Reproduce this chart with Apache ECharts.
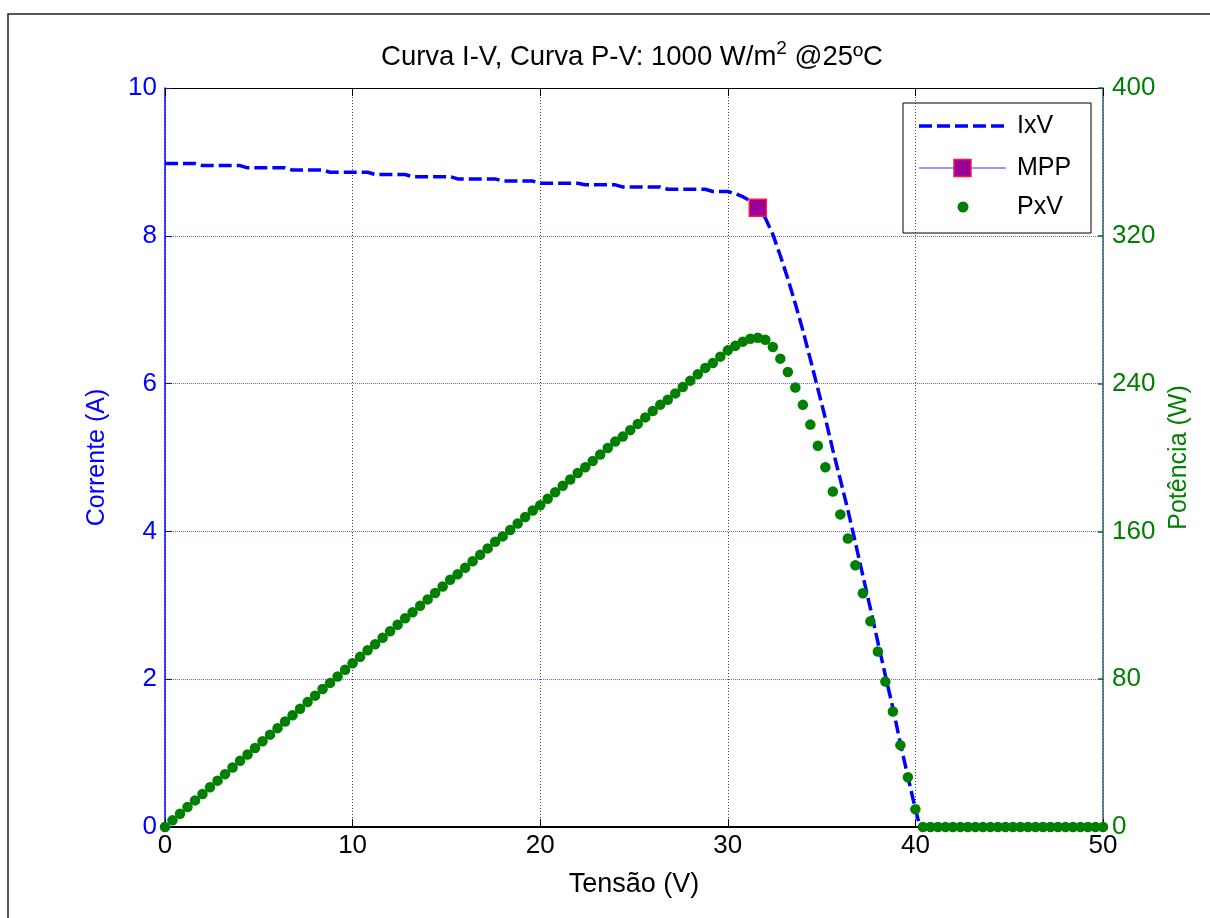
<!DOCTYPE html>
<html>
<head>
<meta charset="utf-8">
<script src="https://cdn.jsdelivr.net/npm/echarts/dist/echarts.min.js"></script>
<style>
html,body{margin:0;padding:0;background:#fff;}
#chart{width:1210px;height:918px;}
</style>
</head>
<body>
<div id="chart"></div>
<script>
// ---- data ----
const xTicks = [0, 10, 20, 30, 40, 50];
const currentTicks = [0, 2, 4, 6, 8, 10];
const powerTicks = [0, 80, 160, 240, 320, 400];

// I-V curve (Tensão V, Corrente A)
const ivVoltage = [0, 1.6, 2.0, 4.0, 4.4, 6.4, 6.8, 8.4, 8.8, 10.8, 11.2, 12.8, 13.2, 15.2, 15.6, 17.6, 18.0, 19.6, 20.0, 22.0, 22.4, 24.0, 24.4, 26.4, 26.8, 28.8, 29.2, 30.0, 30.4, 30.8, 31.2, 31.6, 32.0, 32.4, 32.8, 33.2, 33.6, 34.0, 34.4, 34.8, 35.2, 35.6, 36.0, 36.4, 36.8, 37.2, 37.6, 38.0, 38.4, 38.8, 39.2, 39.6, 40.0, 40.25, 50];
const ivCurrent = [8.98, 8.98, 8.95, 8.95, 8.92, 8.92, 8.89, 8.89, 8.86, 8.86, 8.83, 8.83, 8.80, 8.80, 8.77, 8.77, 8.74, 8.74, 8.71, 8.71, 8.69, 8.69, 8.66, 8.66, 8.63, 8.63, 8.60, 8.60, 8.57, 8.53, 8.47, 8.38, 8.24, 8.02, 7.73, 7.42, 7.08, 6.72, 6.33, 5.93, 5.53, 5.10, 4.70, 4.29, 3.85, 3.40, 2.96, 2.50, 2.05, 1.61, 1.13, 0.68, 0.24, 0, 0];

// Maximum power point
const mppVoltage = 31.6;
const mppCurrent = 8.38;

// P-V points (Tensão V, Potência W)
const pvVoltage = [0, 0.4, 0.8, 1.2, 1.6, 2.0, 2.4, 2.8, 3.2, 3.6, 4.0, 4.4, 4.8, 5.2, 5.6, 6.0, 6.4, 6.8, 7.2, 7.6, 8.0, 8.4, 8.8, 9.2, 9.6, 10.0, 10.4, 10.8, 11.2, 11.6, 12.0, 12.4, 12.8, 13.2, 13.6, 14.0, 14.4, 14.8, 15.2, 15.6, 16.0, 16.4, 16.8, 17.2, 17.6, 18.0, 18.4, 18.8, 19.2, 19.6, 20.0, 20.4, 20.8, 21.2, 21.6, 22.0, 22.4, 22.8, 23.2, 23.6, 24.0, 24.4, 24.8, 25.2, 25.6, 26.0, 26.4, 26.8, 27.2, 27.6, 28.0, 28.4, 28.8, 29.2, 29.6, 30.0, 30.4, 30.8, 31.2, 31.6, 32.0, 32.4, 32.8, 33.2, 33.6, 34.0, 34.4, 34.8, 35.2, 35.6, 36.0, 36.4, 36.8, 37.2, 37.6, 38.0, 38.4, 38.8, 39.2, 39.6, 40.0, 40.4, 40.8, 41.2, 41.6, 42.0, 42.4, 42.8, 43.2, 43.6, 44.0, 44.4, 44.8, 45.2, 45.6, 46.0, 46.4, 46.8, 47.2, 47.6, 48.0, 48.4, 48.8, 49.2, 49.6, 50.0];
const pvPower = [0, 3.6, 7.2, 10.8, 14.4, 17.9, 21.5, 25.1, 28.6, 32.2, 35.8, 39.2, 42.8, 46.4, 50.0, 53.5, 57.1, 60.5, 64.0, 67.6, 71.1, 74.7, 78.0, 81.5, 85.1, 88.6, 92.1, 95.7, 98.9, 102.4, 106.0, 109.5, 113.0, 116.2, 119.7, 123.2, 126.7, 130.2, 133.8, 136.8, 140.3, 143.8, 147.3, 150.8, 154.4, 157.3, 160.8, 164.3, 167.8, 171.3, 174.2, 177.7, 181.2, 184.7, 188.1, 191.6, 194.7, 198.1, 201.6, 205.1, 208.6, 211.3, 214.8, 218.2, 221.7, 225.2, 228.6, 231.3, 234.7, 238.2, 241.6, 245.1, 248.5, 251.1, 254.6, 258.0, 260.5, 262.7, 264.3, 264.8, 263.7, 259.8, 253.5, 246.3, 237.9, 228.5, 217.8, 206.4, 194.7, 181.6, 169.2, 156.2, 141.7, 126.5, 111.3, 95.0, 78.7, 62.5, 44.3, 26.9, 9.6, 0, 0, 0, 0, 0, 0, 0, 0, 0, 0, 0, 0, 0, 0, 0, 0, 0, 0, 0, 0, 0, 0, 0, 0, 0];

const seriesNames = ['IxV', 'MPP', 'PxV'];
const titleMain = 'Curva I-V, Curva P-V: 1000 W/m';
const titleSup = '2';
const titleTail = ' @25ºC';

// ---- chart ----
const FONT = 'Liberation Sans, Arial, Helvetica, sans-serif';
const BLUE = '#0000ff';
const GREEN = '#007f00';
const chart = echarts.init(document.getElementById('chart'), null, {renderer: 'canvas'});

const ivData = ivVoltage.map((v, i) => [v, ivCurrent[i]]);
const pvData = pvVoltage.map((v, i) => [v, pvPower[i]]);

const LX = 903, LY = 103;
const option = {
  animation: false,
  backgroundColor: '#fff',
  title: {
    text: '{t|' + titleMain + '}{s|' + titleSup + '}{t|' + titleTail + '}',
    left: 632, top: 39, textAlign: 'center', padding: 0,
    textStyle: {
      fontWeight: 'normal',
      rich: {
        t: {fontFamily: FONT, fontSize: 27.5, fontWeight: 'normal', color: '#000', lineHeight: 36},
        s: {fontFamily: FONT, fontSize: 19, fontWeight: 'normal', color: '#000', verticalAlign: 'top', lineHeight: 36, padding: [0, 0, 15, 0]}
      }
    }
  },
  grid: {left: 165, right: 107, top: 88, bottom: 91, containLabel: false},
  xAxis: [{
    type: 'value', min: xTicks[0], max: xTicks[xTicks.length - 1], interval: 10,
    position: 'bottom',
    name: 'Tensão (V)', nameLocation: 'middle', nameGap: 44,
    nameTextStyle: {fontFamily: FONT, fontSize: 27, color: '#000'},
    axisLine: {onZero: false, lineStyle: {color: '#000', width: 2}},
    axisTick: {inside: true, length: 8, lineStyle: {color: '#000', width: 1}},
    axisLabel: {fontFamily: FONT, fontSize: 26, color: '#000', margin: 6},
    splitLine: {show: true, lineStyle: {color: '#444', width: 1, type: [1, 2]}}
  }, {
    type: 'value', min: xTicks[0], max: xTicks[xTicks.length - 1], interval: 10,
    position: 'top',
    axisLine: {onZero: false, lineStyle: {color: '#000', width: 1}},
    axisTick: {inside: true, length: 8, lineStyle: {color: '#000', width: 1}},
    axisLabel: {show: false},
    splitLine: {show: false}
  }],
  yAxis: [{
    type: 'value', min: currentTicks[0], max: currentTicks[currentTicks.length - 1], interval: 2,
    position: 'left',
    name: 'Corrente (A)', nameLocation: 'middle', nameGap: 55,
    nameTextStyle: {fontFamily: FONT, fontSize: 25, color: BLUE},
    axisLine: {show: true, onZero: false, lineStyle: {color: BLUE, width: 1.5}},
    axisTick: {show: true, inside: true, length: 7, lineStyle: {color: BLUE, width: 1}},
    axisLabel: {fontFamily: FONT, fontSize: 26, color: BLUE, margin: 8},
    splitLine: {show: true, lineStyle: {color: '#3d3dff', width: 1, type: [1, 1], opacity: 0.8}}
  }, {
    type: 'value', min: powerTicks[0], max: powerTicks[powerTicks.length - 1], interval: 80,
    position: 'right',
    name: 'Potência (W)', nameLocation: 'middle', nameGap: 63,
    nameTextStyle: {fontFamily: FONT, fontSize: 25, color: GREEN},
    axisLine: {show: true, onZero: false, lineStyle: {color: '#2b5f78', width: 1.5}},
    axisTick: {show: true, inside: true, length: 5, lineStyle: {color: GREEN, width: 1.5}},
    axisLabel: {fontFamily: FONT, fontSize: 26, color: GREEN, margin: 9},
    splitLine: {show: false}
  }],
  series: [{
    name: seriesNames[0], type: 'line', xAxisIndex: 0, yAxisIndex: 0,
    data: ivData, symbol: 'none', z: 2,
    lineStyle: {color: BLUE, width: 3.5, type: [13, 5]}
  }, {
    name: seriesNames[1], type: 'line', xAxisIndex: 0, yAxisIndex: 0,
    data: [[mppVoltage, mppCurrent]], symbol: 'rect', symbolSize: 17, z: 3,
    itemStyle: {color: '#990099', borderColor: '#ff1a3c', borderWidth: 1.5}
  }, {
    name: seriesNames[2], type: 'scatter', xAxisIndex: 0, yAxisIndex: 1,
    data: pvData, symbol: 'circle', symbolSize: 10.5, z: 4,
    itemStyle: {color: GREEN, opacity: 1}
  }],
  graphic: [
    // outer figure frame
    {type: 'rect', z: 0, silent: true,
     shape: {x: 8, y: 14, width: 1400, height: 1100}, style: {fill: null, stroke: '#222', lineWidth: 1.5}},
    // legend box
    {type: 'group', x: LX, y: LY, z: 100, children: [
      {type: 'rect', shape: {x: 0, y: 0, width: 188, height: 130}, style: {fill: '#fff', stroke: '#000', lineWidth: 1}},
      {type: 'line', shape: {x1: 16, y1: 23, x2: 103, y2: 23}, style: {stroke: BLUE, lineWidth: 3.5, lineDash: [13, 5]}},
      {type: 'text', x: 114, y: 23, style: {text: seriesNames[0], font: '25px ' + FONT, fill: '#000', verticalAlign: 'middle'}},
      {type: 'line', shape: {x1: 16, y1: 65, x2: 103, y2: 65}, style: {stroke: '#3333ff', lineWidth: 1}},
      {type: 'rect', shape: {x: 51, y: 56.5, width: 17, height: 17}, style: {fill: '#990099', stroke: '#ff1a3c', lineWidth: 1.5}},
      {type: 'text', x: 114, y: 65, style: {text: seriesNames[1], font: '25px ' + FONT, fill: '#000', verticalAlign: 'middle'}},
      {type: 'circle', shape: {cx: 60, cy: 104, r: 5.5}, style: {fill: GREEN}},
      {type: 'text', x: 114, y: 104, style: {text: seriesNames[2], font: '25px ' + FONT, fill: '#000', verticalAlign: 'middle'}}
    ]}
  ]
};
chart.setOption(option);
</script>
</body>
</html>
